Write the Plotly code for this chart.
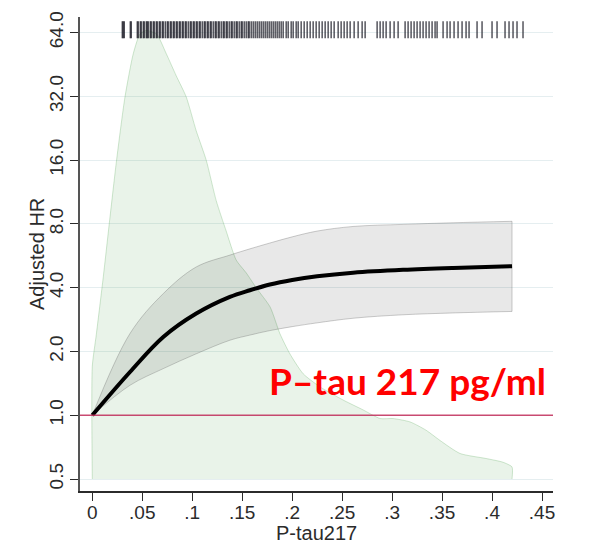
import plotly.graph_objects as go

# ---- data ----
x_curve = [0.0, 0.0377, 0.071, 0.104, 0.1377, 0.1577, 0.1777, 0.2, 0.225, 0.261, 0.311, 0.361, 0.42]
hr_curve = [1.0, 1.60, 2.34, 3.02, 3.62, 3.89, 4.14, 4.35, 4.53, 4.71, 4.86, 4.96, 5.05]
hr_upper = [1.0, 2.43, 3.75, 5.01, 5.70, 6.10, 6.50, 6.95, 7.40, 7.78, 7.96, 8.10, 8.23]
hr_lower = [1.0, 1.385, 1.66, 1.95, 2.26, 2.39, 2.51, 2.62, 2.73, 2.87, 2.98, 3.04, 3.09]

x_dens = [0.0, 0.0, 0.004, 0.011, 0.0177, 0.0243, 0.0327, 0.041, 0.0477, 0.054, 0.0643,
          0.074, 0.084, 0.094, 0.104, 0.114, 0.124, 0.134, 0.144, 0.154, 0.164, 0.178,
          0.1877, 0.1977, 0.211, 0.228, 0.251, 0.271, 0.288, 0.301, 0.318, 0.334, 0.348,
          0.368, 0.394, 0.411, 0.42, 0.42]
dens_hr = [0.5, 1.7, 2.4, 4.5, 8.6, 16.0, 31.8, 50.9, 63.0, 65.5, 63.0,
           50.9, 40.0, 31.8, 22.0, 16.0, 10.3, 7.4, 5.4, 4.7, 4.0, 3.24,
           2.43, 1.95, 1.57, 1.36, 1.18, 1.06, 0.965, 0.965, 0.93, 0.85, 0.76,
           0.66, 0.625, 0.60, 0.57, 0.5]
dens_base = 0.5

rug_x = [0.030, 0.031, 0.032, 0.038, 0.039,
         0.045, 0.046, 0.048, 0.049, 0.051, 0.052, 0.054, 0.055, 0.056, 0.058, 0.059, 0.061,
         0.062, 0.064, 0.065, 0.067, 0.068, 0.070, 0.071, 0.073, 0.075, 0.076, 0.078, 0.079,
         0.081, 0.082, 0.084, 0.085, 0.087, 0.088, 0.090, 0.091, 0.093, 0.094, 0.096, 0.098,
         0.099, 0.101, 0.102, 0.104, 0.105, 0.107, 0.108, 0.110, 0.112, 0.113, 0.115, 0.116,
         0.118, 0.119, 0.121, 0.123, 0.124, 0.126, 0.127, 0.129, 0.131, 0.132, 0.134, 0.135,
         0.137, 0.139, 0.140, 0.142, 0.144, 0.145, 0.147, 0.149, 0.150, 0.152, 0.154, 0.156,
         0.157, 0.159, 0.161, 0.163, 0.165, 0.167, 0.169, 0.171, 0.173, 0.175, 0.177, 0.179,
         0.181, 0.183, 0.185, 0.187, 0.189, 0.191, 0.194, 0.196, 0.199, 0.201, 0.204, 0.206,
         0.209, 0.212, 0.215, 0.218, 0.221, 0.224, 0.227, 0.230, 0.233, 0.236, 0.239, 0.242,
         0.246, 0.249, 0.252, 0.255, 0.258, 0.262, 0.266, 0.270, 0.273,
         0.285, 0.288, 0.291, 0.294, 0.298, 0.302, 0.306,
         0.313, 0.316, 0.319, 0.322, 0.325, 0.328, 0.331, 0.334, 0.337, 0.340, 0.343, 0.345,
         0.351, 0.355, 0.358, 0.362, 0.366, 0.370, 0.374, 0.377,
         0.385, 0.390, 0.400, 0.405, 0.413, 0.417, 0.421, 0.425, 0.431]

x_tickvals = [0, 0.05, 0.1, 0.15, 0.2, 0.25, 0.3, 0.35, 0.4, 0.45]
x_ticktext = ["0", ".05", ".1", ".15", ".2", ".25", ".3", ".35", ".4", ".45"]
y_tickvals = [0.5, 1, 2, 4, 8, 16, 32, 64]
y_ticktext = ["0.5", "1.0", "2.0", "4.0", "8.0", "16.0", "32.0", "64.0"]
x_title = "P-tau217"
y_title = "Adjusted HR"
ref_hr = 1.0
rug_level = 66.0
label_text = "P\u2013tau 217 pg/ml"

FONT = "Liberation Sans, Arial, sans-serif"
AXC = "#2b2b2b"

fig = go.Figure()

# density baseline + density fill
fig.add_trace(go.Scatter(x=[x_dens[0], x_dens[-1]], y=[dens_base, dens_base], mode="lines",
                         line=dict(width=0), hoverinfo="skip", showlegend=False))
fig.add_trace(go.Scatter(x=x_dens, y=dens_hr, mode="lines", fill="tonexty",
                         fillcolor="rgba(70,160,70,0.12)",
                         line=dict(color="rgba(70,160,70,0.25)", width=1, shape="spline", smoothing=0.6),
                         hoverinfo="skip", showlegend=False))

# CI band
fig.add_trace(go.Scatter(x=x_curve, y=hr_lower, mode="lines",
                         line=dict(color="rgba(110,110,110,0.35)", width=1, shape="spline"),
                         showlegend=False, hoverinfo="skip"))
fig.add_trace(go.Scatter(x=x_curve, y=hr_upper, mode="lines", fill="tonexty",
                         fillcolor="rgba(0,0,0,0.09)",
                         line=dict(color="rgba(110,110,110,0.35)", width=1, shape="spline"),
                         showlegend=False, hoverinfo="skip"))
fig.add_trace(go.Scatter(x=[x_curve[-1], x_curve[-1]], y=[hr_lower[-1], hr_upper[-1]], mode="lines",
                         line=dict(color="rgba(110,110,110,0.35)", width=1),
                         showlegend=False, hoverinfo="skip"))

# reference line at HR = 1
fig.add_hline(y=ref_hr, line=dict(color="rgba(195,45,90,0.85)", width=1.6), layer="above")

# main curve
fig.add_trace(go.Scatter(x=x_curve, y=hr_curve, mode="lines",
                         line=dict(color="black", width=4, shape="spline"),
                         showlegend=False, hoverinfo="skip"))

# rug
fig.add_trace(go.Scatter(x=rug_x, y=[rug_level] * len(rug_x), mode="markers",
                         marker=dict(symbol="line-ns", size=12,
                                     line=dict(color="rgba(25,25,35,0.85)", width=1.3)),
                         showlegend=False, hoverinfo="skip"))

fig.add_annotation(x=0.4555, y=0.165, xref="x", yref="y", text="<b>" + label_text + "</b>",
                   showarrow=False, xanchor="right", yanchor="middle",
                   font=dict(family="Lato, sans-serif", size=37, color="#ff0000"))

# axis titles
fig.add_annotation(x=0.5, y=0, xref="paper", yref="paper", text=x_title, showarrow=False,
                   xanchor="center", yanchor="middle", yshift=-42,
                   font=dict(family=FONT, size=20, color=AXC))
fig.add_annotation(x=0, y=0.5, xref="paper", yref="paper", text=y_title, showarrow=False,
                   xanchor="center", yanchor="middle", xshift=-43, textangle=-90,
                   font=dict(family=FONT, size=20, color=AXC))

fig.update_layout(
    width=607, height=546,
    margin=dict(l=80, r=54, t=17, b=55),
    paper_bgcolor="white", plot_bgcolor="white",
    font=dict(family=FONT, color=AXC),
    xaxis=dict(range=[-0.0123, 0.461], tickvals=x_tickvals, ticktext=x_ticktext, automargin=False,
               ticks="outside", ticklen=8, tickcolor=AXC, tickwidth=1.2, ticklabelstandoff=-5,
               showline=True, linecolor=AXC, linewidth=1.5, showgrid=False, zeroline=False,
               tickfont=dict(size=19, color=AXC)),
    yaxis=dict(type="log", range=[-0.3575, 1.8797], tickvals=y_tickvals, ticktext=y_ticktext,
               automargin=False,
               ticks="outside", ticklen=8, tickcolor=AXC, tickwidth=1.2, tickangle=-90,
               showline=True, linecolor="#555555", linewidth=1.5,
               showgrid=True, gridcolor="#e5eef0", gridwidth=1.2, zeroline=False,
               tickfont=dict(size=19, color=AXC)),
)

fig.write_html("out.html", config={"displayModeBar": False},
               post_script="document.body.style.margin='0';")
